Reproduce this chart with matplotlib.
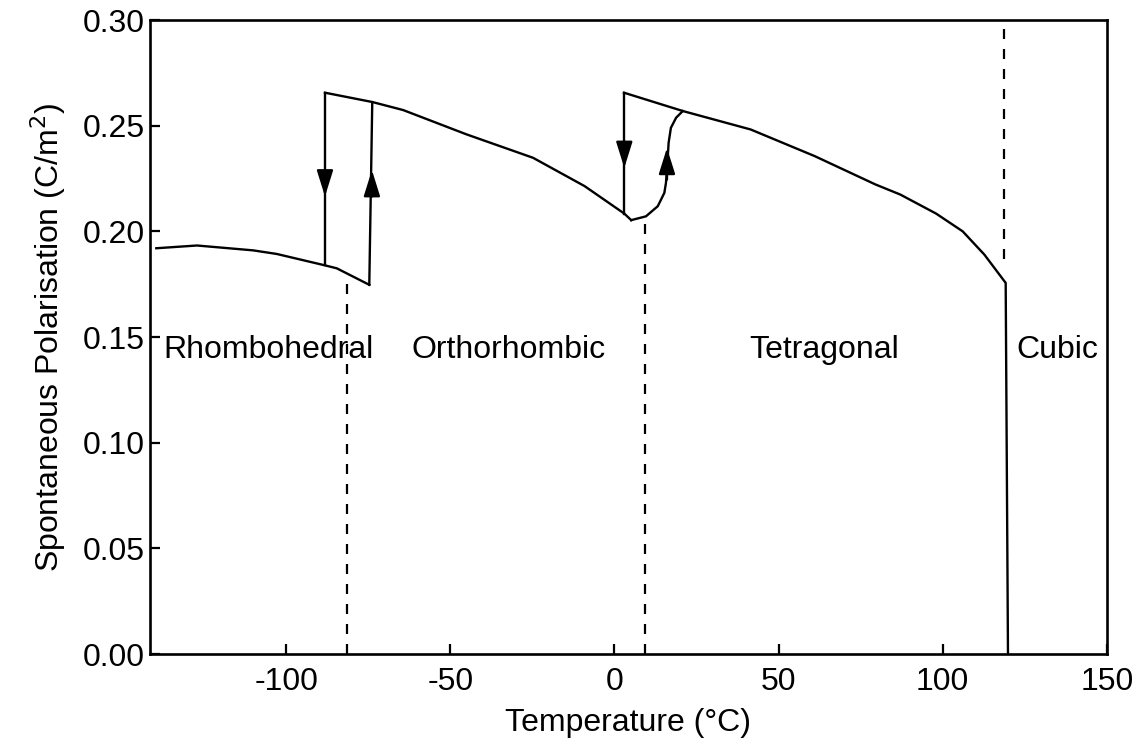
import matplotlib
matplotlib.use("Agg")
import matplotlib.pyplot as plt
import numpy as np

plt.rcParams['font.family'] = ['Liberation Sans', 'DejaVu Sans']
plt.rcParams['axes.unicode_minus'] = False

# Rhombohedral branch (T in °C, P in C/m^2)
rhombo_T = [-139.6, -127.2, -110.1, -102.9, -88.2, -84.6, -74.7]
rhombo_P = [0.1920, 0.1933, 0.1910, 0.1893, 0.1839, 0.1825, 0.1747]

# Orthorhombic branch
ortho_T = [-88.2, -73.8, -64.4, -45.1, -24.8, -9.1, 3.0, 5.1]
ortho_P = [0.2656, 0.2612, 0.2574, 0.2459, 0.2348, 0.2214, 0.2084, 0.2053]

# Orthorhombic -> tetragonal transition on heating
o2t_T = [5.1, 9.6, 13.2, 15.2, 15.7, 16.2, 16.5, 17.2, 18.8, 20.8]
o2t_P = [0.2053, 0.2071, 0.2119, 0.2182, 0.2230, 0.2340, 0.2419, 0.2490, 0.2538, 0.2569]

# Tetragonal branch
tetra_T = [2.9, 20.9, 41.5, 61.0, 79.5, 87.1, 98.0, 106.1, 112.7, 119.2, 119.9]
tetra_P = [0.2656, 0.2569, 0.2482, 0.2356, 0.2222, 0.2174, 0.2084, 0.2000, 0.1890, 0.1756, 0.0]

# Vertical jumps (T, P_start, P_end)
jump_T = [[-88.2, -88.2], [-74.7, -73.8], [3.0, 3.0]]
jump_P = [[0.2656, 0.1839], [0.1747, 0.2605], [0.2656, 0.2084]]

# Arrow heads: (T, base P, tip P)
arrow_T = [-88.2, -73.9, 3.0, 16.0]
arrow_base = [0.2270, 0.2165, 0.2405, 0.2245]
arrow_tip = [0.2165, 0.2290, 0.2300, 0.2395]

# Dashed phase boundaries
bound_T = [-81.6, 9.4, 118.6]
bound_lo = [0.0, 0.0, 0.187]
bound_hi = [0.175, 0.204, 0.300]

# Phase labels
phase_names = ['Rhombohedral', 'Orthorhombic', 'Tetragonal', 'Cubic']
phase_T = [-105.5, -32.2, 64.0, 135.0]
phase_P = [0.1438, 0.1438, 0.1438, 0.1438]

x_ticks = [-100, -50, 0, 50, 100, 150]
y_ticks = [0.00, 0.05, 0.10, 0.15, 0.20, 0.25, 0.30]

fig = plt.figure(figsize=(11.41, 7.41), dpi=100)
ax = fig.add_axes([0.1315, 0.1174, 0.8385, 0.8556])

lw = 1.7
kw = dict(color='black', lw=lw, solid_joinstyle='miter')
ax.plot(rhombo_T, rhombo_P, **kw)
ax.plot(ortho_T, ortho_P, **kw)
ax.plot(o2t_T, o2t_P, **kw)
ax.plot(tetra_T, tetra_P, **kw)
for t, p in zip(jump_T, jump_P):
    ax.plot(t, p, **kw)

for t, b, tp in zip(arrow_T, arrow_base, arrow_tip):
    ax.annotate('', xy=(t, tp), xytext=(t, b),
                arrowprops=dict(arrowstyle='-|>,head_length=1.6,head_width=0.5',
                                color='black', lw=lw, shrinkA=0, shrinkB=0,
                                mutation_scale=10))

for t, lo, hi in zip(bound_T, bound_lo, bound_hi):
    ax.plot([t, t], [lo, hi], color='black', lw=1.6, linestyle=(0, (4.5, 4.5)))

for name, t, p in zip(phase_names, phase_T, phase_P):
    ax.text(t, p, name, ha='center', va='center', fontsize=23)

ax.set_xlim(-141.5, 150)
ax.set_ylim(0, 0.30)
ax.set_xticks(x_ticks)
ax.set_xticklabels([str(v) for v in x_ticks])
ax.set_yticks(y_ticks)
ax.set_yticklabels(['%.2f' % v for v in y_ticks])
ax.tick_params(direction='in', length=7, width=1.6, labelsize=23, pad=4)
ax.tick_params(axis='x', pad=9)
for s in ax.spines.values():
    s.set_linewidth(1.9)

ax.set_xlabel('Temperature (°C)', fontsize=23, labelpad=8)
ax.set_ylabel('Spontaneous Polarisation (C/m$^2$)', fontsize=23, labelpad=10)

fig.savefig('out.png', dpi=100)
